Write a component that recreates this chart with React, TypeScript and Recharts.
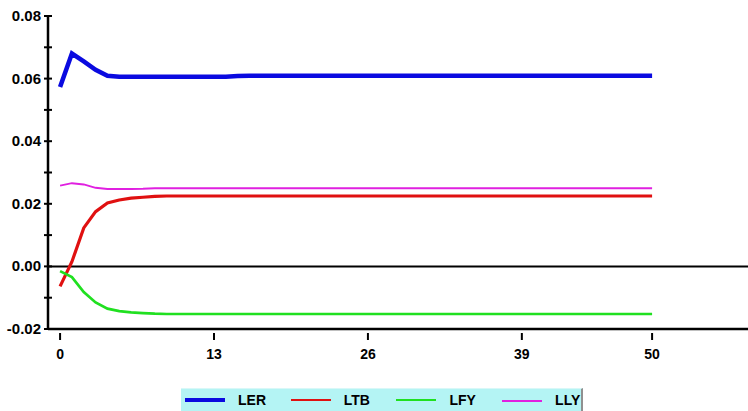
import React from "react";
import { LineChart, Line, XAxis, YAxis, ReferenceLine } from "recharts";

const periods = [
  0, 1, 2, 3, 4, 5, 6, 7, 8, 9, 10, 11, 12, 13, 14, 15, 16, 17, 18, 19, 20, 21, 22, 23, 24, 25,
  26, 27, 28, 29, 30, 31, 32, 33, 34, 35, 36, 37, 38, 39, 40, 41, 42, 43, 44, 45, 46, 47, 48, 49, 50,
];
const LER = [
  0.0573, 0.068, 0.0655, 0.0628, 0.0609, 0.0606, 0.0606, 0.0606, 0.0606, 0.0606, 0.0606, 0.0606,
  0.0606, 0.0606, 0.0606, 0.0608, 0.0609, 0.0609, 0.0609, 0.0609, 0.0609, 0.0609, 0.0609, 0.0609,
  0.0609, 0.0609, 0.0609, 0.0609, 0.0609, 0.0609, 0.0609, 0.0609, 0.0609, 0.0609, 0.0609, 0.0609,
  0.0609, 0.0609, 0.0609, 0.0609, 0.0609, 0.0609, 0.0609, 0.0609, 0.0609, 0.0609, 0.0609, 0.0609,
  0.0609, 0.0609, 0.0609,
];
const LTB = [
  -0.0064, 0.0015, 0.0123, 0.0175, 0.0203, 0.0212, 0.0218, 0.0221, 0.0224, 0.0225, 0.0225, 0.0225,
  0.0225, 0.0225, 0.0225, 0.0225, 0.0225, 0.0225, 0.0225, 0.0225, 0.0225, 0.0225, 0.0225, 0.0225,
  0.0225, 0.0225, 0.0225, 0.0225, 0.0225, 0.0225, 0.0225, 0.0225, 0.0225, 0.0225, 0.0225, 0.0225,
  0.0225, 0.0225, 0.0225, 0.0225, 0.0225, 0.0225, 0.0225, 0.0225, 0.0225, 0.0225, 0.0225, 0.0225,
  0.0225, 0.0225, 0.0225,
];
const LFY = [
  -0.0015, -0.0034, -0.0082, -0.0115, -0.0135, -0.0143, -0.0147, -0.0149, -0.0151, -0.0152, -0.0152,
  -0.0152, -0.0152, -0.0152, -0.0152, -0.0152, -0.0152, -0.0152, -0.0152, -0.0152, -0.0152, -0.0152,
  -0.0152, -0.0152, -0.0152, -0.0152, -0.0152, -0.0152, -0.0152, -0.0152, -0.0152, -0.0152, -0.0152,
  -0.0152, -0.0152, -0.0152, -0.0152, -0.0152, -0.0152, -0.0152, -0.0152, -0.0152, -0.0152, -0.0152,
  -0.0152, -0.0152, -0.0152, -0.0152, -0.0152, -0.0152, -0.0152,
];
const LLY = [
  0.0258, 0.0266, 0.0262, 0.0251, 0.0247, 0.0247, 0.0247, 0.0248, 0.025, 0.025, 0.025, 0.025, 0.025,
  0.025, 0.025, 0.025, 0.025, 0.025, 0.025, 0.025, 0.025, 0.025, 0.025, 0.025, 0.025, 0.025, 0.025,
  0.025, 0.025, 0.025, 0.025, 0.025, 0.025, 0.025, 0.025, 0.025, 0.025, 0.025, 0.025, 0.025, 0.025,
  0.025, 0.025, 0.025, 0.025, 0.025, 0.025, 0.025, 0.025, 0.025, 0.025,
];
const xTicks = [0, 13, 26, 39, 50];
const yTicks = [-0.02, -0.01, 0, 0.01, 0.02, 0.03, 0.04, 0.05, 0.06, 0.07, 0.08];
const yLabels = ["-0.02", "0.00", "0.02", "0.04", "0.06", "0.08"];

const seriesDefs = [
  { key: "LER", color: "#0a0ae0", width: 4.5 },
  { key: "LTB", color: "#e01010", width: 3.2 },
  { key: "LFY", color: "#20e020", width: 2.7 },
  { key: "LLY", color: "#e020e0", width: 2 },
];

const data = periods.map((p, i) => ({ p, LER: LER[i], LTB: LTB[i], LFY: LFY[i], LLY: LLY[i] }));

const FONT = "'Liberation Sans', Arial, sans-serif";

const YTick = (props: any) => {
  const { x, y, payload } = props;
  const v = payload.value;
  const idx = Math.round(v * 100);
  const isMajor = idx % 2 === 0;
  const label = idx === -2 ? "-0.02" : (idx / 100).toFixed(2);
  return (
    <g>
      <line x1={x + 4} x2={x + 12} y1={y} y2={y} stroke="#000" strokeWidth={2} />
      {isMajor && yLabels.includes(label) && (
        <text x={x + 1} y={y} dy={5} textAnchor="end" fontFamily={FONT} fontWeight="bold" fontSize={15} fill="#000">
          {label}
        </text>
      )}
    </g>
  );
};

const XTick = (props: any) => {
  const { x, y, payload } = props;
  return (
    <g>
      <line x1={x} x2={x} y1={y - 4} y2={y + 3} stroke="#000" strokeWidth={2} />
      <text x={x} y={y + 22} textAnchor="middle" fontFamily={FONT} fontWeight="bold" fontSize={14} fill="#000">
        {payload.value}
      </text>
    </g>
  );
};

const LegendBox = () => (
  <div
    style={{
      position: "absolute",
      left: 181,
      top: 388,
      width: 402,
      height: 24,
      background: "#b4f4f4",
      borderRight: "2px solid #909090",
      borderTop: "1px solid #d8f8f8",
      boxSizing: "border-box",
      fontFamily: FONT,
      fontWeight: "bold",
      fontSize: 14,
    }}
  >
    {seriesDefs.map((s, i) => (
      <div key={s.key} style={{ position: "absolute", left: 4 + i * 105.7, top: 0, height: 22, width: 100 }}>
        <div style={{ position: "absolute", left: 0, top: 11 - s.width / 2 + 0.5, width: 40, height: Math.max(s.width - 1, 2), background: s.color }} />
        <div style={{ position: "absolute", left: 53, top: 3, color: "#000", lineHeight: "16px" }}>{s.key}</div>
      </div>
    ))}
  </div>
);

export default function App() {
  return (
    <div style={{ position: "fixed", left: 0, top: 0, width: 748, height: 411, background: "#fff" }}>
      <LineChart width={748} height={411} data={data} margin={{ top: 16, right: 0, bottom: 52, left: 0 }}>
        <XAxis
          dataKey="p"
          type="number"
          domain={[-1.02, 58.1]}
          ticks={xTicks}
          allowDataOverflow
          axisLine={{ stroke: "#000", strokeWidth: 2.5 }}
          tickLine={false}
          tick={<XTick />}
          height={30}
          interval={0}
        />
        <YAxis
          type="number"
          domain={[-0.02, 0.08]}
          ticks={yTicks}
          allowDataOverflow
          width={48}
          axisLine={{ stroke: "#000", strokeWidth: 2.5 }}
          tickLine={false}
          tick={<YTick />}
          interval={0}
        />
        <ReferenceLine y={0} stroke="#000" strokeWidth={2} />
        {seriesDefs.map((s) => (
          <Line
            key={s.key}
            dataKey={s.key}
            stroke={s.color}
            strokeWidth={s.width}
            dot={false}
            isAnimationActive={false}
            type="linear"
          />
        ))}
      </LineChart>
      <LegendBox />
    </div>
  );
}
